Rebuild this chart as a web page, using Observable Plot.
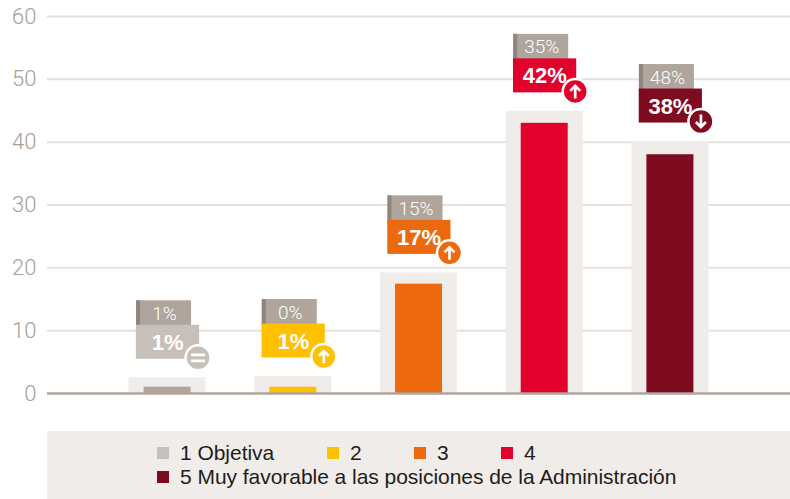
<!DOCTYPE html>
<html lang="es">
<head>
<meta charset="utf-8">
<script src="https://cdn.jsdelivr.net/npm/d3@7"></script>
<script src="https://cdn.jsdelivr.net/npm/@observablehq/plot@0.6"></script>
<style>
html,body{margin:0;padding:0;background:#fff;overflow:hidden}
#chart svg{display:block}
#legend{box-sizing:border-box;margin-left:47px;width:743px;height:68px;background:#f0ece9;padding:10px 0 0 110px;
 font:21px/24px "Liberation Sans",sans-serif;color:#1d1d1b;letter-spacing:-.04px}
.row{display:flex;height:24px;align-items:center}
.item{display:flex;align-items:center}
.sw{width:12px;height:12px;margin-right:11px;flex:none}
</style>
</head>
<body>
<div id="chart"></div>
<div id="legend"></div>
<script>
const categories = ["1", "2", "3", "4", "5"];
const backValues = [2.5, 2.7, 19.2, 44.9, 40.1];
const barValues = [1, 1, 17.4, 43, 38];
const previousLabels = ["1%", "0%", "15%", "35%", "48%"];
const currentLabels = ["1%", "1%", "17%", "42%", "38%"];
const trends = ["equal", "up", "up", "up", "down"];
const barColors = ["#afa59c", "#ffc000", "#ec6a0d", "#e2002c", "#7f0b20"];
const boxColors = ["#c7bfb9", "#ffc000", "#ec6a0d", "#e2002c", "#7f0b20"];
const legendLabels = ["1 Objetiva", "2", "3", "4", "5 Muy favorable a las posiciones de la Administración"];
const yTicks = [0, 10, 20, 30, 40, 50, 60];

const rows = categories.map((c, i) => ({
  c, back: backValues[i], bar: barValues[i], prev: previousLabels[i], cur: currentLabels[i],
  trend: trends[i], barColor: barColors[i], boxColor: boxColors[i]
}));
const pxPerUnit = 377 / 60;
const up = px => px / pxPerUnit;

// Glyphs drawn inside the trend badges
const glyphs = {
  up: {draw(c) { c.moveTo(0, 7); c.lineTo(0, -5.5); c.moveTo(-5, -0.5); c.lineTo(0, -5.5); c.lineTo(5, -0.5); }},
  down: {draw(c) { c.moveTo(0, -7); c.lineTo(0, 5.5); c.moveTo(-5, 0.5); c.lineTo(0, 5.5); c.lineTo(5, 0.5); }},
  equal: {draw(c) { c.moveTo(-7, -3); c.lineTo(7, -3); c.moveTo(-7, 3); c.lineTo(7, 3); }}
};
const glyphMark = name => Plot.dot(rows.filter(d => d.trend === name), {
  x: "c", y: "back", dx: 30.5, dy: -20, r: 5, symbol: glyphs[name], fill: "none", stroke: "#fff", strokeWidth: 2.7
});

const plot = Plot.plot({
  width: 790, height: 431,
  marginLeft: 47, marginRight: 0, marginTop: 16, marginBottom: 38,
  style: {background: "#fff", fontFamily: "'Liberation Sans',sans-serif"},
  x: {type: "band", domain: categories, paddingInner: 0.3875, paddingOuter: 0.649, round: false, axis: null},
  y: {domain: [0, 60], axis: null},
  marks: [
    Plot.ruleY(yTicks.filter(d => d > 0), {stroke: "#e6e1dd", strokeWidth: 2}),
    Plot.axisY(yTicks, {tickSize: 0, tickPadding: 11, fontSize: 22, fill: "#a89e95", fontWeight: 300, fontFamily: "Roboto", label: null}),
    Plot.barY(rows, {x: "c", y: "back", fill: "#f0ece9"}),
    Plot.barY(rows, {x: "c", y: "bar", fill: "barColor", insetLeft: 15, insetRight: 15}),
    Plot.ruleY([0], {stroke: "#afa59c", strokeWidth: 2.5}),
    // previous-period tag
    Plot.barY(rows, {x: "c", y1: d => d.back + up(50), y2: d => d.back + up(77), fill: "#afa59c", insetLeft: 7.5, insetRight: 14.5}),
    Plot.barY(rows, {x: "c", y1: d => d.back + up(50), y2: d => d.back + up(77), fill: "#8f857d", insetLeft: 7.5, insetRight: 65.5}),
    Plot.text(rows, {x: "c", y: "back", text: "prev", dx: -3, dy: -64, fontSize: 19, fill: "#fff", fontWeight: 300, fontFamily: "Roboto"}),
    // current-period tag
    Plot.barY(rows, {x: "c", y1: d => d.back + up(18.5), y2: d => d.back + up(52.5), fill: "boxColor", insetLeft: 7.3, insetRight: 6.5}),
    Plot.text(rows, {x: "c", y: "back", text: "cur", dy: -35, fontSize: 22, fontWeight: 700, fill: "#fff"}),
    // trend badge
    Plot.dot(rows, {x: "c", y: "back", dx: 30.5, dy: -20, r: 12.5, fill: "boxColor", stroke: "#fff", strokeWidth: 2.5}),
    glyphMark("up"), glyphMark("down"), glyphMark("equal")
  ]
});
document.getElementById("chart").appendChild(plot);

const legendColors = boxColors;
const legendWidths = [170, 87, 87, 87];
const legend = d3.select("#legend");
const r1 = legend.append("div").attr("class", "row");
const r2 = legend.append("div").attr("class", "row");
legendLabels.forEach((label, i) => {
  const it = (i < 4 ? r1 : r2).append("div").attr("class", "item");
  if (i < 4) it.style("width", legendWidths[i] + "px");
  it.append("span").attr("class", "sw").style("background", legendColors[i]);
  it.append("span").text(label);
});
</script>
</body>
</html>
